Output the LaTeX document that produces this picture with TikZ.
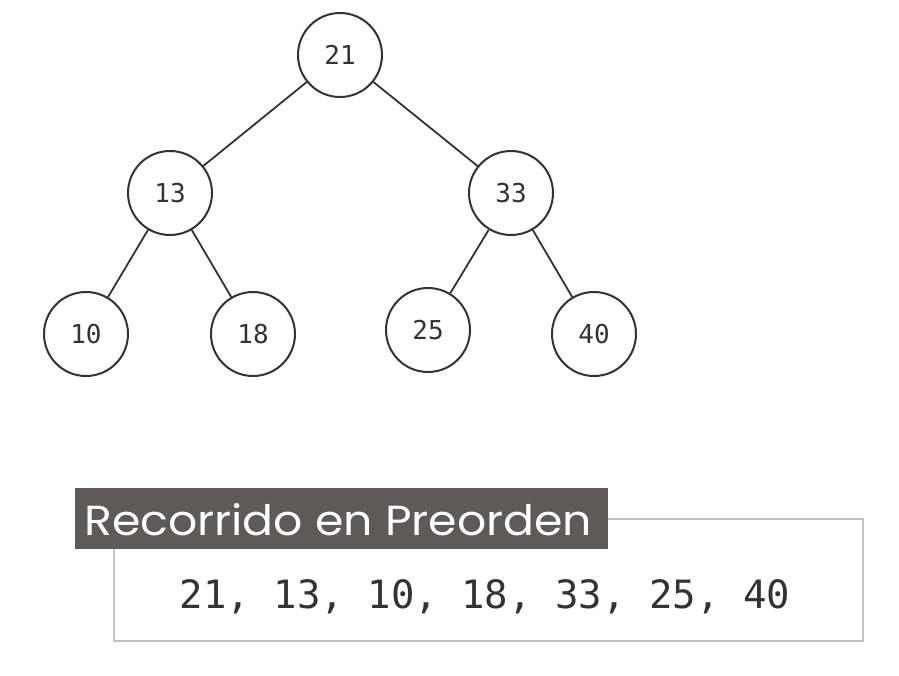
\documentclass[tikz,border=0pt]{standalone}
\usepackage{fontspec}
\usepackage{graphicx}
\newfontfamily\monofont{DejaVu Sans Mono}
\newfontfamily\titlefont{Poppins}
\definecolor{ink}{HTML}{333333}
\definecolor{titlebg}{HTML}{5E5A5A}
\definecolor{boxline}{HTML}{C4C4C4}
\begin{document}
\begin{tikzpicture}[x=1pt,y=-1pt,
  tnode/.style={circle,draw=ink,line width=2pt,minimum size=84pt,inner sep=0pt,
    font=\monofont\fontsize{26}{30}\selectfont,text=ink},
  edge/.style={draw=ink,line width=1.8pt}]
\useasboundingbox[fill=white] (0,0) rectangle (899,676);
\node[tnode] (n21) at (340,55) {21};
\node[tnode] (n13) at (170,193) {13};
\node[tnode] (n33) at (511,193) {33};
\node[tnode] (n10) at (86,334) {10};
\node[tnode] (n18) at (253,334) {18};
\node[tnode] (n25) at (428,330) {25};
\node[tnode] (n40) at (594,334) {40};
\draw[edge] (n21) -- (n13);
\draw[edge] (n21) -- (n33);
\draw[edge] (n13) -- (n10);
\draw[edge] (n13) -- (n18);
\draw[edge] (n33) -- (n25);
\draw[edge] (n33) -- (n40);
\node[draw=boxline,line width=1.5pt,minimum width=749pt,minimum height=122pt,anchor=north west,inner sep=0pt] (outbox) at (113,518) {};
\node[fill=titlebg,minimum width=533pt,minimum height=61pt,anchor=north west,inner sep=0pt] (title) at (75,488) {};
\node[anchor=west,text=white,font=\titlefont\fontsize{42}{48}\selectfont,inner sep=0pt] (titletext) at (84,520) {\scalebox{1.09}[1]{Recorrido en Preorden}};
\node[text=ink,font=\monofont\fontsize{39}{44}\selectfont,inner sep=0pt] (seq) at (485,597) {21, 13, 10, 18, 33, 25, 40};
\end{tikzpicture}
\end{document}
